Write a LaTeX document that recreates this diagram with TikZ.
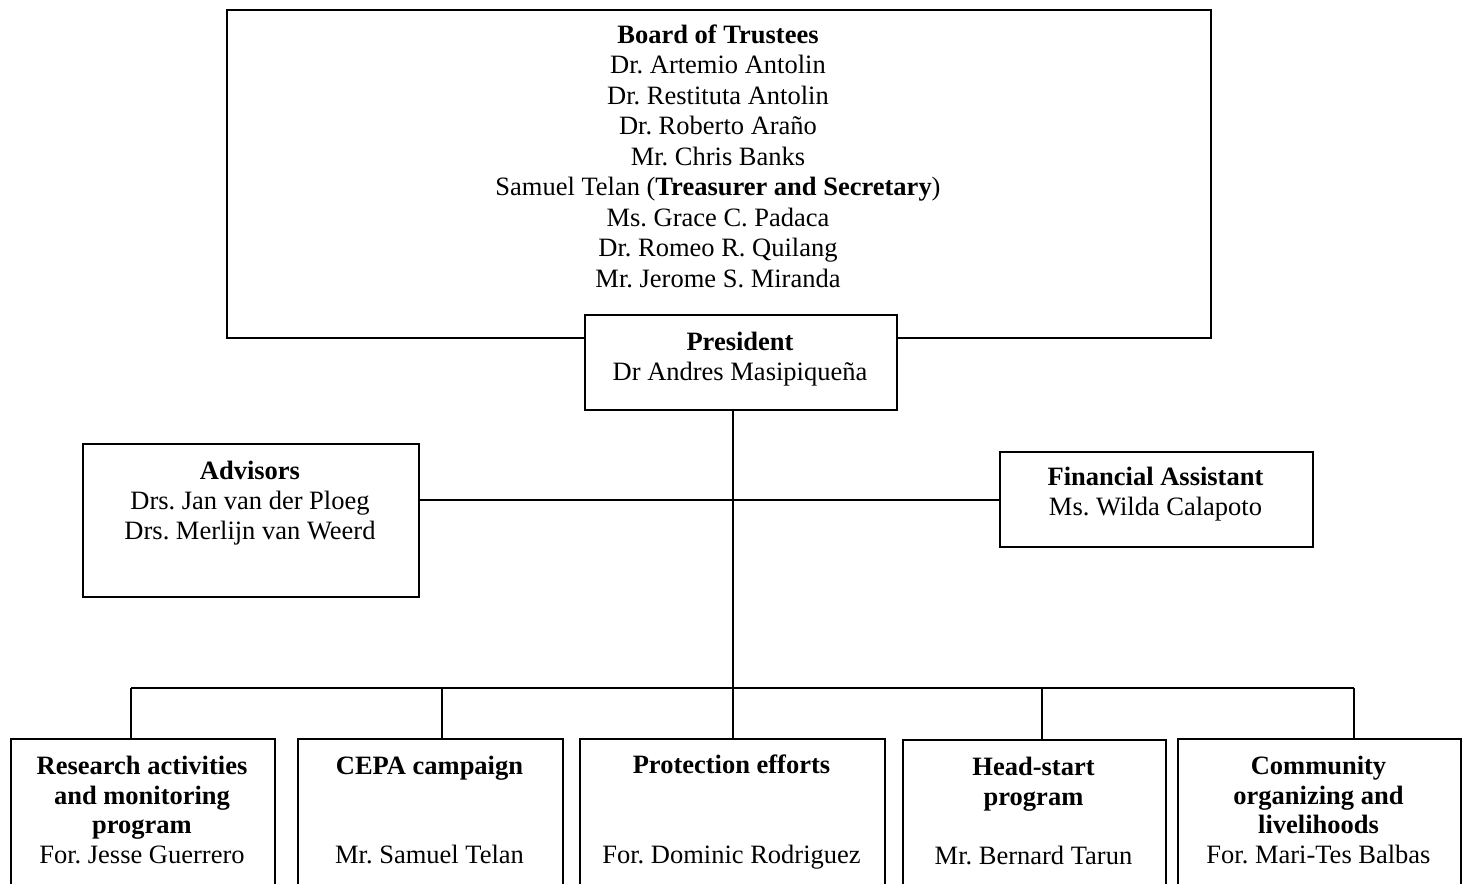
\documentclass[tikz,border=0pt]{standalone}
\usepackage{fontspec}
\setmainfont{Liberation Serif}
\frenchspacing
\tikzset{
  box/.style={draw, line width=2pt, fill=white, inner sep=0pt, anchor=north west},
  lbl/.style={anchor=north, inner sep=0pt, align=center, font=\fontsize{26.5}{30}\selectfont},
  boardlbl/.style={anchor=north, inner sep=0pt, align=center, font=\fontsize{26.5}{30.5}\selectfont},
  unitlbl/.style={anchor=north, inner sep=0pt, align=center, font=\fontsize{26.5}{29.5}\selectfont},
  conn/.style={line width=2pt},
}
\begin{document}
\begin{tikzpicture}[x=1pt,y=-1pt]
\useasboundingbox (0,0) rectangle (1463,883);
\clip (0,0) rectangle (1463,883);

% Board
\node[box, minimum width=984pt, minimum height=328pt] (board) at (226,9) {};
\node[boardlbl] (boardt) at (718,21.65) {\strut\textbf{Board of Trustees}\\
Dr. Artemio Antolin\\
Dr. Restituta Antolin\\
Dr. Roberto Araño\\
Mr. Chris Banks\\
Samuel Telan (\textbf{Treasurer and Secretary})\\
Ms. Grace C. Padaca\\
Dr. Romeo R. Quilang\\
Mr. Jerome S. Miranda};

% President
\node[box, minimum width=312pt, minimum height=95pt] (pres) at (584,314) {};
\node[lbl] (prest) at (740,329) {\strut\textbf{President}\\Dr Andres Masipiqueña};

% Advisors
\node[box, minimum width=336pt, minimum height=153pt] (adv) at (82,443) {};
\node[lbl] (advt) at (250,458) {\strut\textbf{Advisors}\\Drs. Jan van der Ploeg\\Drs. Merlijn van Weerd};

% Financial assistant
\node[box, minimum width=313pt, minimum height=95pt] (fin) at (999,451) {};
\node[lbl] (fint) at (1155.5,464.3) {\strut\textbf{Financial Assistant}\\Ms. Wilda Calapoto};

% Units
\node[box, minimum width=264pt, minimum height=160pt] (u1) at (10,738) {};
\node[unitlbl] (u1t) at (142,754) {\strut\textbf{Research activities}\\\textbf{and monitoring}\\\textbf{program}\\For. Jesse Guerrero};

\node[box, minimum width=265pt, minimum height=160pt] (u2) at (297,738) {};
\node[unitlbl] (u2t) at (429.5,754) {\strut\textbf{CEPA campaign}\\[59pt]Mr. Samuel Telan};

\node[box, minimum width=305pt, minimum height=160pt] (u3) at (579,738) {};
\node[unitlbl] (u3t) at (731.5,752.4) {\strut\textbf{Protection efforts}\\[60.5pt]For. Dominic Rodriguez};

\node[box, minimum width=263pt, minimum height=160pt] (u4) at (902,739) {};
\node[unitlbl] (u4t) at (1033.5,754.7) {\strut\textbf{Head-start}\\\textbf{program}\\[30pt]Mr. Bernard Tarun};

\node[box, minimum width=283pt, minimum height=160pt] (u5) at (1177,738) {};
\node[unitlbl] (u5t) at (1318.5,754) {\strut\textbf{Community}\\\textbf{organizing and}\\\textbf{livelihoods}\\For. Mari-Tes Balbas};

% Connectors
\coordinate (d1) at (131,688);
\coordinate (d2) at (442,688);
\coordinate (d4) at (1042,688);
\coordinate (d5) at (1354,688);

\draw[conn] (pres.south -| u3.north) -- (u3.north);
\draw[conn] (fin.west) -- (fin.west -| adv.east);
\draw[conn] (d1) -- (d5);
\draw[conn] (d1) -- (d1 |- u1.north);
\draw[conn] (d2) -- (d2 |- u2.north);
\draw[conn] (d4) -- (d4 |- u4.north);
\draw[conn] (d5) -- (d5 |- u5.north);
\end{tikzpicture}
\end{document}
